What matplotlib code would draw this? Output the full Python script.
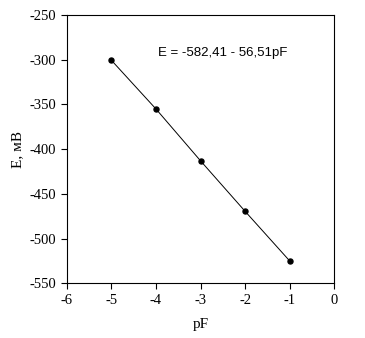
import matplotlib
matplotlib.use("Agg")
import matplotlib.pyplot as plt

# data
pF = [-5, -4, -3, -2, -1]
E = [-300.5, -355, -413, -469.5, -525]
eq_label = "E = -582,41 - 56,51pF"

plt.rcParams["font.family"] = ["Liberation Serif", "DejaVu Serif"]
plt.rcParams["axes.unicode_minus"] = False

fig = plt.figure(figsize=(3.65, 3.38), dpi=100)
ax = fig.add_axes([66.7 / 365, 1 - 283.3 / 338, 267.6 / 365, 268.3 / 338])

ax.plot(pF, E, color="black", linewidth=0.7, marker="o", markersize=3.6,
        markerfacecolor="black", markeredgecolor="black")

ax.set_xlim(-6, 0)
ax.set_ylim(-550, -250)
ax.set_xticks(range(-6, 1))
ax.set_yticks(range(-550, -249, 50))
ax.tick_params(direction="out", length=4, width=0.8, labelsize=10.5,
               top=False, right=False)
for sp in ax.spines.values():
    sp.set_linewidth(0.8)

ax.set_xlabel("pF", fontsize=11, labelpad=8)
ax.set_ylabel("E, мВ", fontsize=11, labelpad=4)

ax.text(-3.95, -292.5, eq_label, fontsize=9.5, family=["Liberation Sans", "DejaVu Sans"],
        ha="left", va="center")

fig.savefig("out.png", dpi=100)
